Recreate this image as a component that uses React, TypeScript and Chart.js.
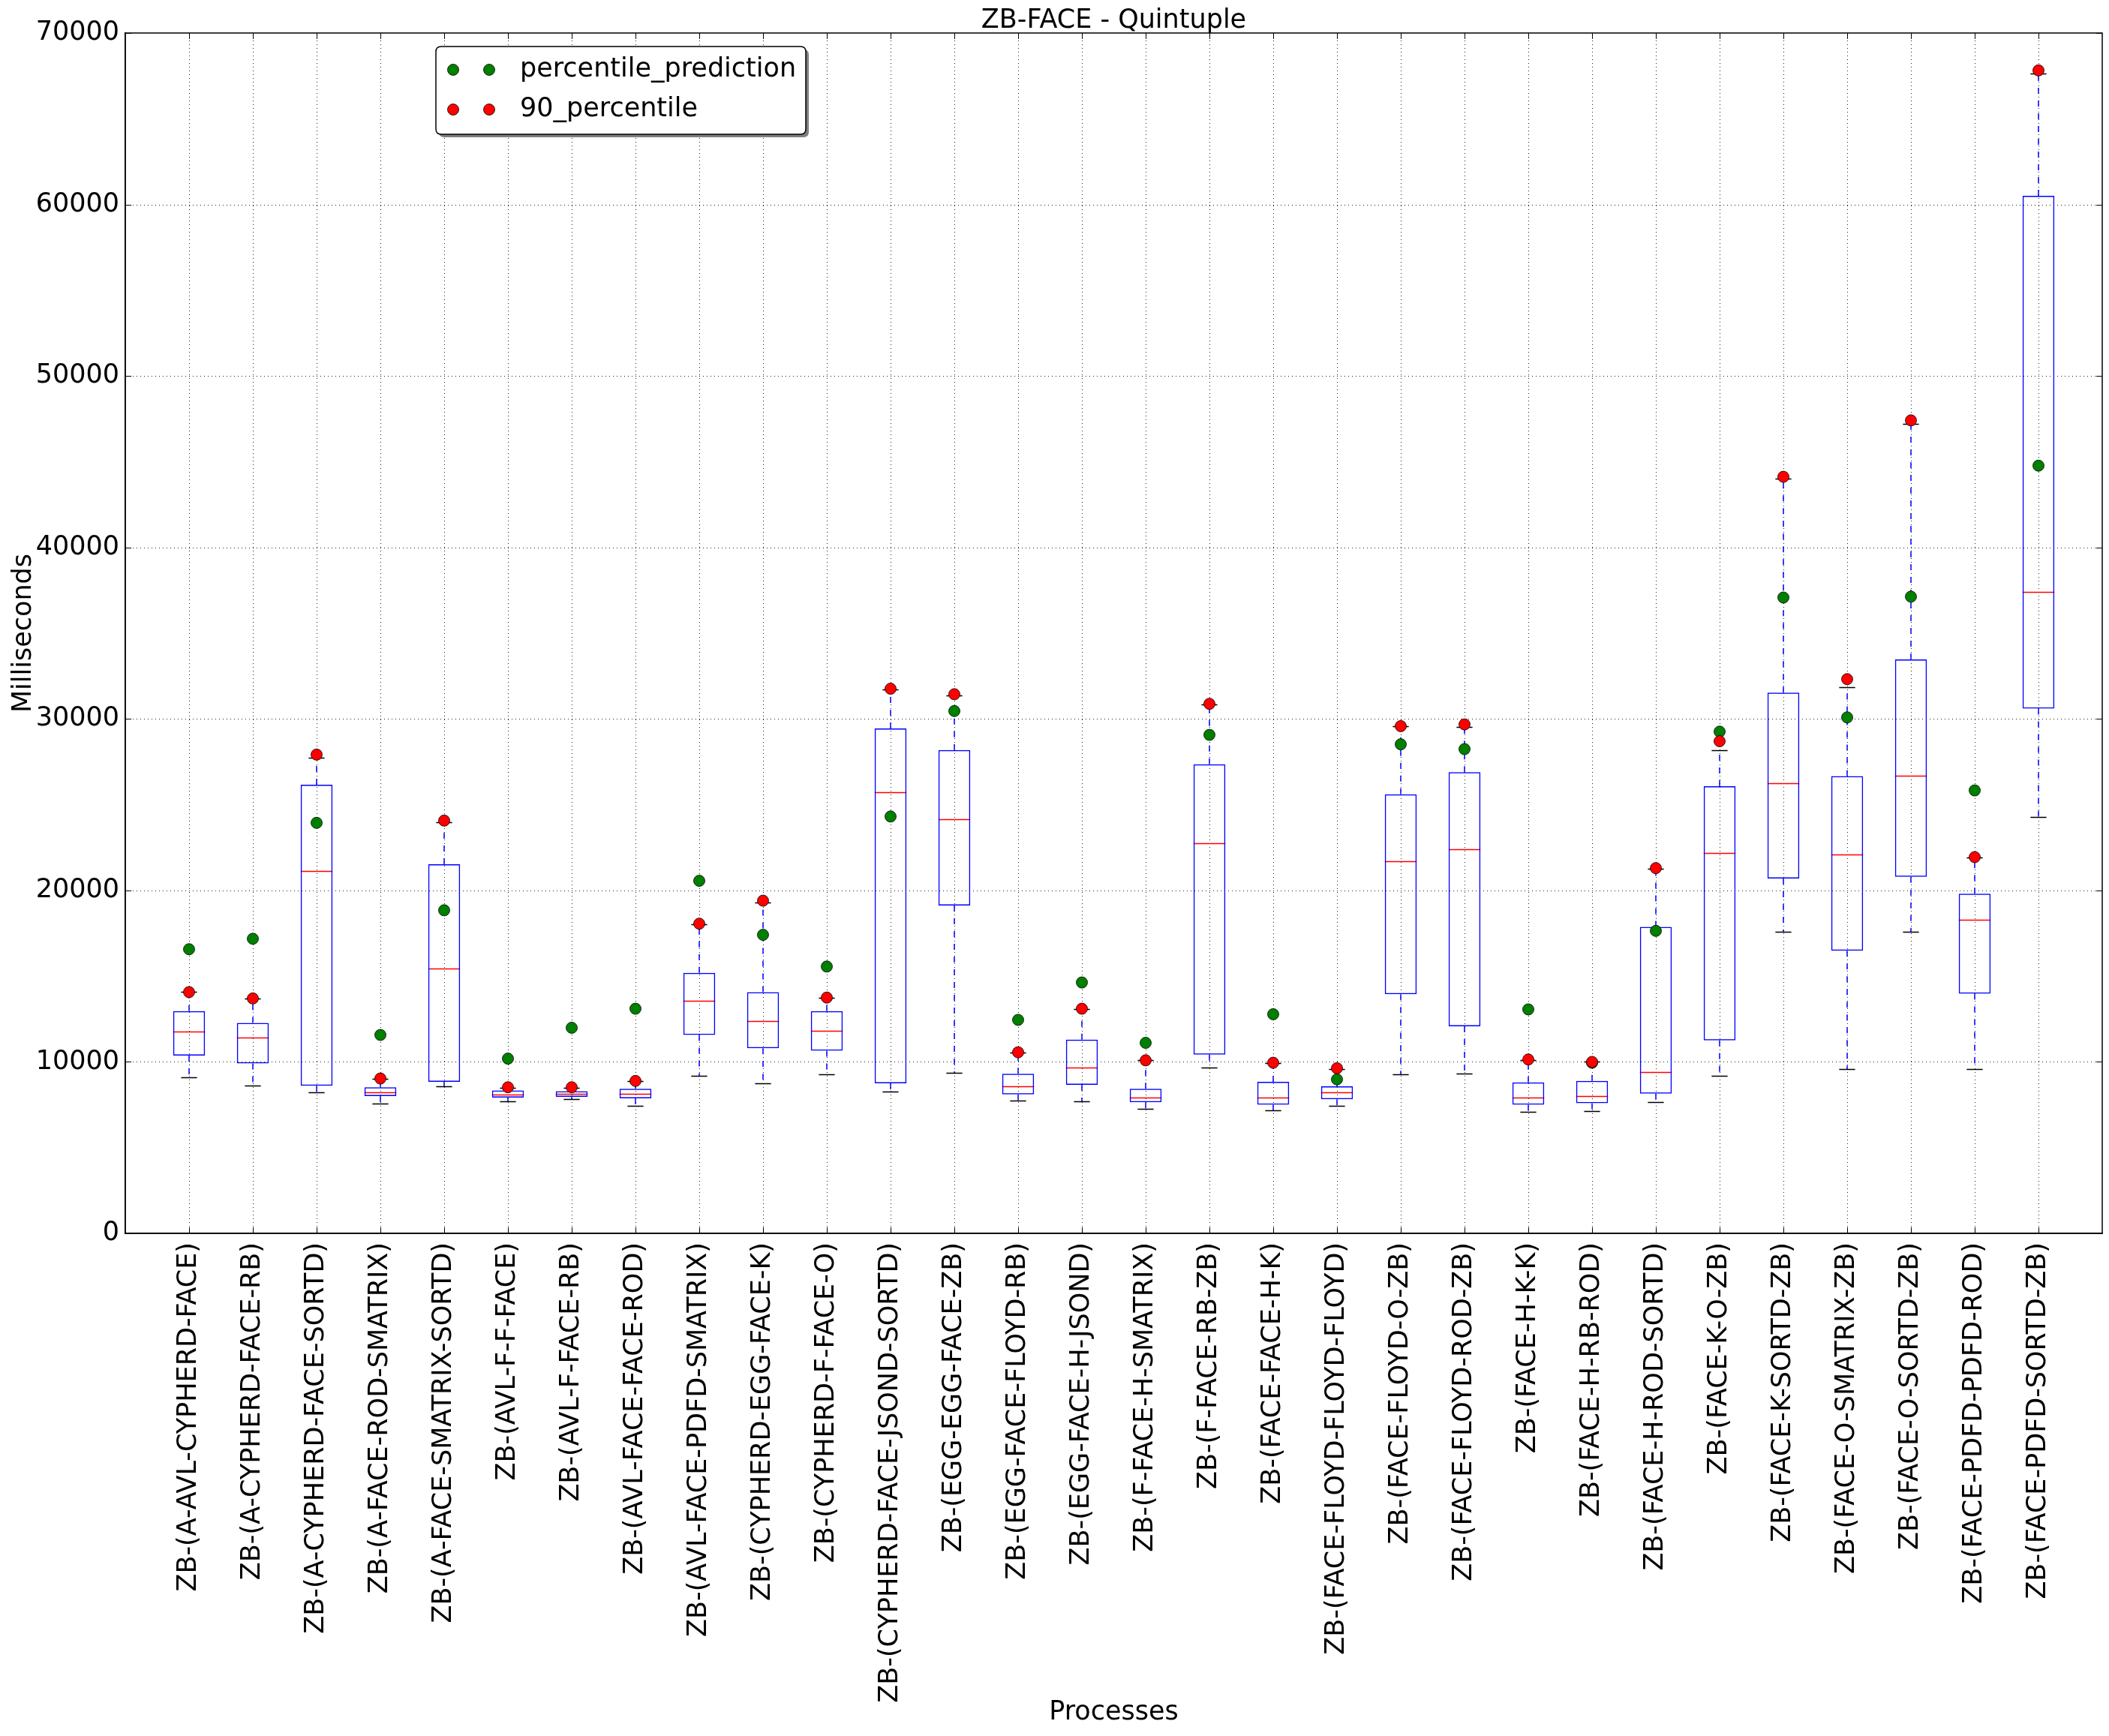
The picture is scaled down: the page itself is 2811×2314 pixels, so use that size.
import React, { useEffect, useRef } from 'react';
import { Chart, registerables } from 'chart.js';

Chart.register(...registerables);

const categories = [
  'ZB-(A-AVL-CYPHERD-FACE)',
  'ZB-(A-CYPHERD-FACE-RB)',
  'ZB-(A-CYPHERD-FACE-SORTD)',
  'ZB-(A-FACE-ROD-SMATRIX)',
  'ZB-(A-FACE-SMATRIX-SORTD)',
  'ZB-(AVL-F-F-FACE)',
  'ZB-(AVL-F-FACE-RB)',
  'ZB-(AVL-FACE-FACE-ROD)',
  'ZB-(AVL-FACE-PDFD-SMATRIX)',
  'ZB-(CYPHERD-EGG-FACE-K)',
  'ZB-(CYPHERD-F-FACE-O)',
  'ZB-(CYPHERD-FACE-JSOND-SORTD)',
  'ZB-(EGG-EGG-FACE-ZB)',
  'ZB-(EGG-FACE-FLOYD-RB)',
  'ZB-(EGG-FACE-H-JSOND)',
  'ZB-(F-FACE-H-SMATRIX)',
  'ZB-(F-FACE-RB-ZB)',
  'ZB-(FACE-FACE-H-K)',
  'ZB-(FACE-FLOYD-FLOYD-FLOYD)',
  'ZB-(FACE-FLOYD-O-ZB)',
  'ZB-(FACE-FLOYD-ROD-ZB)',
  'ZB-(FACE-H-K-K)',
  'ZB-(FACE-H-RB-ROD)',
  'ZB-(FACE-H-ROD-SORTD)',
  'ZB-(FACE-K-O-ZB)',
  'ZB-(FACE-K-SORTD-ZB)',
  'ZB-(FACE-O-SMATRIX-ZB)',
  'ZB-(FACE-O-SORTD-ZB)',
  'ZB-(FACE-PDFD-PDFD-ROD)',
  'ZB-(FACE-PDFD-SORTD-ZB)',
];

const boxQ1 = [10370, 9910, 8610, 8010, 8840, 7920, 7960, 7870, 11570, 10790, 10650, 8750, 19120, 8100, 8660, 7640, 10420, 7500, 7820, 13940, 12080, 7500, 7590, 8150, 11250, 20690, 16480, 20790, 13980, 30600];
const boxMedian = [11760, 11430, 21110, 8240, 15460, 8100, 8150, 8150, 13560, 12360, 11810, 25740, 24170, 8570, 9680, 7920, 22730, 7920, 8240, 21710, 22410, 7920, 8010, 9400, 22180, 26250, 22080, 26670, 18290, 37410];
const boxQ3 = [12960, 12270, 26160, 8520, 21530, 8330, 8290, 8430, 15190, 14070, 12960, 29440, 28190, 9310, 11300, 8430, 27360, 8840, 8570, 25600, 26900, 8800, 8890, 17870, 26070, 31530, 26670, 33470, 19810, 60510];
const whiskerLow = [9120, 8610, 8240, 7590, 8570, 7690, 7820, 7450, 9170, 8750, 9260, 8290, 9350, 7730, 7690, 7270, 9680, 7180, 7450, 9260, 9310, 7080, 7130, 7640, 9170, 17590, 9580, 17590, 9580, 24260];
const whiskerHigh = [14070, 13700, 27730, 9030, 23980, 8470, 8470, 8890, 18010, 19310, 13750, 31710, 31390, 10560, 13100, 10090, 30830, 9950, 9580, 29580, 29540, 10090, 10000, 21250, 28190, 44030, 31850, 47220, 21900, 67640];
const percentilePrediction = [16570, 17180, 23940, 11570, 18840, 10190, 11990, 13100, 20560, 17410, 15560, 24310, 30460, 12450, 14630, 11110, 29070, 12780, 8980, 28520, 28240, 13060, 9950, 17640, 29260, 37080, 30090, 37130, 25830, 44770];
const percentile90 = [14070, 13700, 27920, 9030, 24070, 8520, 8520, 8890, 18060, 19400, 13750, 31760, 31440, 10560, 13100, 10090, 30880, 9950, 9630, 29580, 29680, 10140, 10000, 21300, 28700, 44120, 32320, 47410, 21940, 67820];
const yTicks = [0, 10000, 20000, 30000, 40000, 50000, 60000, 70000];
const chartTitle = 'ZB-FACE - Quintuple';

const FONT = 'DejaVu Sans';
const FS = 35;

export default function App() {
  const ref = useRef<HTMLCanvasElement>(null);

  useEffect(() => {
    document.body.style.margin = '0';
    const canvas = ref.current;
    if (!canvas) return;
    const positions = categories.map((_, i) => i + 1);

    const boxPlugin = {
      id: 'boxExtras',
      beforeDatasetsDraw(chart: any) {
        const { ctx, scales, chartArea } = chart;
        const xs = scales.x;
        const ys = scales.y;
        ctx.save();
        // dotted grid
        ctx.strokeStyle = '#222';
        ctx.lineWidth = 1;
        ctx.setLineDash([1, 4]);
        ctx.beginPath();
        positions.forEach((p) => {
          const x = Math.round(xs.getPixelForValue(p)) + 0.5;
          ctx.moveTo(x, chartArea.top);
          ctx.lineTo(x, chartArea.bottom);
        });
        yTicks.forEach((v) => {
          if (v === 0 || v === 70000) return;
          const y = Math.round(ys.getPixelForValue(v)) + 0.5;
          ctx.moveTo(chartArea.left, y);
          ctx.lineTo(chartArea.right, y);
        });
        ctx.stroke();
        ctx.setLineDash([]);

        const half = (xs.getPixelForValue(1) - xs.getPixelForValue(0)) * 0.25;
        const capHalf = half / 2;
        positions.forEach((p, i) => {
          const x = xs.getPixelForValue(p);
          // whiskers
          ctx.strokeStyle = '#0000ff';
          ctx.lineWidth = 1.5;
          ctx.setLineDash([8, 9]);
          ctx.beginPath();
          ctx.moveTo(x, ys.getPixelForValue(boxQ3[i]));
          ctx.lineTo(x, ys.getPixelForValue(whiskerHigh[i]));
          ctx.moveTo(x, ys.getPixelForValue(boxQ1[i]));
          ctx.lineTo(x, ys.getPixelForValue(whiskerLow[i]));
          ctx.stroke();
          ctx.setLineDash([]);
          // caps
          ctx.strokeStyle = '#000000';
          ctx.lineWidth = 1.5;
          ctx.beginPath();
          const yh = Math.round(ys.getPixelForValue(whiskerHigh[i])) + 0.5;
          const yl = Math.round(ys.getPixelForValue(whiskerLow[i])) + 0.5;
          ctx.moveTo(x - capHalf, yh);
          ctx.lineTo(x + capHalf, yh);
          ctx.moveTo(x - capHalf, yl);
          ctx.lineTo(x + capHalf, yl);
          ctx.stroke();
          // median
          ctx.strokeStyle = '#ff0000';
          ctx.lineWidth = 1.5;
          const ym = Math.round(ys.getPixelForValue(boxMedian[i])) + 0.5;
          ctx.beginPath();
          ctx.moveTo(x - half, ym);
          ctx.lineTo(x + half, ym);
          ctx.stroke();
        });
        ctx.restore();
      },
      afterDatasetsDraw(chart: any) {
        const { ctx, chartArea, scales } = chart;
        const { left, right, top, bottom } = chartArea;
        ctx.save();
        // inward ticks
        ctx.strokeStyle = '#000';
        ctx.lineWidth = 1;
        ctx.beginPath();
        yTicks.forEach((v) => {
          const y = Math.round(scales.y.getPixelForValue(v)) + 0.5;
          ctx.moveTo(left, y);
          ctx.lineTo(left + 8, y);
          ctx.moveTo(right, y);
          ctx.lineTo(right - 8, y);
        });
        positions.forEach((p) => {
          const x = Math.round(scales.x.getPixelForValue(p)) + 0.5;
          ctx.moveTo(x, bottom);
          ctx.lineTo(x, bottom - 8);
          ctx.moveTo(x, top);
          ctx.lineTo(x, top + 8);
        });
        ctx.stroke();
        // frame
        ctx.lineWidth = 1.5;
        ctx.strokeRect(left, top, right - left, bottom - top);

        // title centred over the plot area
        ctx.fillStyle = '#000';
        ctx.font = `${FS}px "${FONT}"`;
        ctx.textAlign = 'center';
        ctx.textBaseline = 'alphabetic';
        ctx.fillText(chartTitle, (left + right) / 2, top - 7);

        // legend
        const bx = left + 414;
        const by = top + 18;
        const bw = 493;
        const bh = 117;
        const r = 7;
        const roundRect = (x: number, y: number, w: number, h: number) => {
          ctx.beginPath();
          ctx.moveTo(x + r, y);
          ctx.lineTo(x + w - r, y);
          ctx.quadraticCurveTo(x + w, y, x + w, y + r);
          ctx.lineTo(x + w, y + h - r);
          ctx.quadraticCurveTo(x + w, y + h, x + w - r, y + h);
          ctx.lineTo(x + r, y + h);
          ctx.quadraticCurveTo(x, y + h, x, y + h - r);
          ctx.lineTo(x, y + r);
          ctx.quadraticCurveTo(x, y, x + r, y);
          ctx.closePath();
        };
        roundRect(bx + 4, by + 4, bw, bh);
        ctx.fillStyle = '#7f7f7f';
        ctx.fill();
        roundRect(bx, by, bw, bh);
        ctx.fillStyle = '#ffffff';
        ctx.fill();
        ctx.strokeStyle = '#000';
        ctx.lineWidth = 1.5;
        ctx.stroke();
        const rows = [
          { label: 'percentile_prediction', color: '#008000', y: by + 31 },
          { label: '90_percentile', color: '#ff0000', y: by + 84 },
        ];
        rows.forEach((row) => {
          [bx + 23, bx + 71].forEach((cx) => {
            ctx.beginPath();
            ctx.arc(cx, row.y, 7.5, 0, Math.PI * 2);
            ctx.fillStyle = row.color;
            ctx.fill();
            ctx.lineWidth = 0.8;
            ctx.strokeStyle = '#000';
            ctx.stroke();
          });
          ctx.fillStyle = '#000';
          ctx.font = `${FS}px "${FONT}"`;
          ctx.textAlign = 'left';
          ctx.textBaseline = 'middle';
          ctx.fillText(row.label, bx + 112, row.y);
        });
        ctx.restore();
      },
    };

    const chart = new Chart(canvas, {
      type: 'bar',
      data: {
        datasets: [
          {
            type: 'scatter',
            label: '90_percentile',
            data: positions.map((x, i) => ({ x, y: percentile90[i] })),
            backgroundColor: '#ff0000',
            borderColor: '#000000',
            borderWidth: 0.8,
            pointRadius: 7.5,
            pointHoverRadius: 7.5,
            order: 0,
          } as any,
          {
            type: 'scatter',
            label: 'percentile_prediction',
            data: positions.map((x, i) => ({ x, y: percentilePrediction[i] })),
            backgroundColor: '#008000',
            borderColor: '#000000',
            borderWidth: 0.8,
            pointRadius: 7.5,
            pointHoverRadius: 7.5,
            order: 1,
          } as any,
          {
            type: 'bar',
            label: 'box',
            data: positions.map((x, i) => ({ x, y: [boxQ1[i], boxQ3[i]] })),
            backgroundColor: 'rgba(0,0,0,0)',
            borderColor: '#0000ff',
            borderWidth: 1.5,
            borderSkipped: false,
            barPercentage: 0.5,
            categoryPercentage: 1,
            order: 2,
          } as any,
        ],
      },
      options: {
        responsive: false,
        animation: false,
        devicePixelRatio: 1,
        layout: { padding: { left: 0, right: 9, top: 44, bottom: 0 } },
        font: { family: FONT, size: FS },
        plugins: {
          legend: { display: false },
          tooltip: { enabled: false },
          title: { display: false },
        },
        scales: {
          x: {
            type: 'linear',
            min: 0,
            max: 31,
            offset: false,
            afterBuildTicks: (scale: any) => {
              scale.ticks = positions.map((v) => ({ value: v }));
            },
            afterFit: (scale: any) => {
              scale.height = 670;
            },
            ticks: {
              autoSkip: false,
              minRotation: 90,
              maxRotation: 90,
              padding: 12,
              color: '#000',
              font: { family: FONT, size: FS },
              callback: (v: any) => categories[Number(v) - 1] ?? '',
            },
            grid: { display: false, offset: false, drawTicks: false },
            border: { display: true, color: '#000', width: 1.5 },
            title: {
              display: true,
              text: 'Processes',
              color: '#000',
              font: { family: FONT, size: FS },
              padding: { top: 0, bottom: 10 },
            },
          },
          y: {
            type: 'linear',
            min: 0,
            max: 70000,
            afterBuildTicks: (scale: any) => {
              scale.ticks = yTicks.map((v) => ({ value: v }));
            },
            afterFit: (scale: any) => {
              scale.width = 167;
            },
            ticks: {
              padding: 8,
              color: '#000',
              font: { family: FONT, size: FS },
              callback: (v: any) => String(v),
            },
            grid: { display: false, drawTicks: false },
            border: { display: true, color: '#000', width: 1.5 },
            title: {
              display: true,
              text: 'Milliseconds',
              color: '#000',
              font: { family: FONT, size: FS },
              padding: { top: 11, bottom: 0 },
            },
          },
        },
      } as any,
      plugins: [boxPlugin],
    });

    return () => {
      chart.destroy();
    };
  }, []);

  return (
    <div style={{ width: 2811, height: 2314, overflow: 'hidden' }}>
      <canvas ref={ref} width={2811} height={2314} style={{ display: 'block' }} />
    </div>
  );
}
